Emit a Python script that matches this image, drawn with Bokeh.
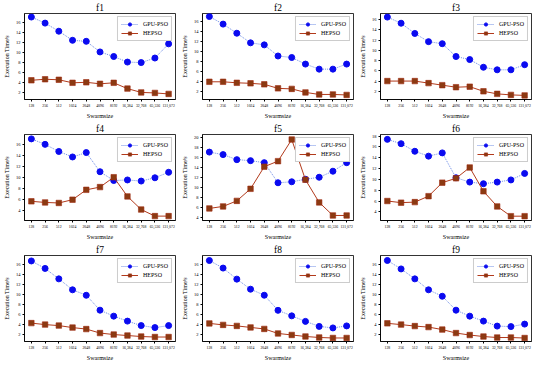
from bokeh.plotting import figure
from bokeh.layouts import gridplot
from bokeh.models import Range1d, SingleIntervalTicker, Legend, LegendItem
from bokeh.embed import file_html
from bokeh.resources import INLINE

swarm = ["128", "256", "512", "1024", "2048", "4096", "8192", "16,384", "32,768", "65,536", "131,072"]
titles = ["f1", "f2", "f3", "f4", "f5", "f6", "f7", "f8", "f9"]

gpu_f1 = [17.0, 15.8, 14.2, 12.4, 12.2, 10.1, 9.2, 8.1, 8.0, 8.9, 11.7]
hep_f1 = [4.5, 4.7, 4.6, 4.0, 4.1, 3.8, 4.0, 2.85, 2.1, 2.0, 1.8]
gpu_f2 = [16.9, 15.4, 13.6, 11.7, 11.3, 9.1, 8.8, 7.5, 6.5, 6.5, 7.5]
hep_f2 = [4.0, 4.0, 3.8, 3.7, 3.5, 2.7, 2.6, 1.9, 1.5, 1.5, 1.4]
gpu_f3 = [16.5, 15.3, 13.3, 11.7, 11.3, 8.8, 8.2, 6.7, 6.2, 6.2, 7.2]
hep_f3 = [4.0, 4.0, 4.0, 3.6, 3.2, 2.8, 2.9, 2.0, 1.5, 1.3, 1.2]
gpu_f4 = [17.0, 16.0, 14.7, 13.7, 14.5, 11.0, 9.4, 9.5, 9.3, 9.9, 10.9]
hep_f4 = [5.6, 5.4, 5.3, 5.9, 7.7, 8.2, 10.0, 6.5, 4.1, 2.9, 2.9]
gpu_f5 = [17.1, 16.6, 15.6, 15.4, 15.0, 11.0, 11.2, 11.7, 12.1, 13.3, 15.0]
hep_f5 = [5.9, 6.3, 7.4, 9.8, 14.2, 15.3, 19.6, 11.6, 7.1, 4.5, 4.5]
gpu_f6 = [17.4, 16.6, 15.2, 14.3, 14.9, 10.3, 9.5, 9.2, 9.5, 9.9, 11.1]
hep_f6 = [6.0, 5.7, 5.8, 6.9, 9.4, 10.2, 12.2, 7.8, 5.0, 3.2, 3.2]
gpu_f7 = [16.8, 15.3, 13.2, 11.0, 9.9, 6.9, 5.7, 4.7, 3.8, 3.4, 3.8]
hep_f7 = [4.3, 4.0, 3.8, 3.4, 3.1, 2.3, 2.0, 1.8, 1.6, 1.5, 1.5]
gpu_f8 = [16.7, 15.2, 13.0, 11.0, 9.8, 6.8, 5.7, 4.6, 3.6, 3.3, 3.7]
hep_f8 = [4.2, 3.9, 3.7, 3.4, 3.1, 2.2, 1.9, 1.6, 1.4, 1.3, 1.3]
gpu_f9 = [16.9, 15.2, 13.2, 11.0, 9.7, 6.9, 5.7, 4.7, 3.7, 3.6, 4.1]
hep_f9 = [4.25, 4.0, 3.7, 3.5, 3.0, 2.3, 1.9, 1.6, 1.4, 1.4, 1.3]

gpu_all = [gpu_f1, gpu_f2, gpu_f3, gpu_f4, gpu_f5, gpu_f6, gpu_f7, gpu_f8, gpu_f9]
hep_all = [hep_f1, hep_f2, hep_f3, hep_f4, hep_f5, hep_f6, hep_f7, hep_f8, hep_f9]
y_lo = [0.7, 0.5, 0.4, 2.1, 3.5, 2.4, 0.6, 0.6, 0.6]
y_hi = [17.7, 17.5, 17.2, 17.8, 20.6, 18.3, 17.9, 17.7, 17.9]

FONT = "Liberation Serif"
figs = []
for i in range(9):
    p = figure(x_range=swarm, width=178, height=121, output_backend="svg",
               toolbar_location=None, title=titles[i])
    p.y_range = Range1d(y_lo[i], y_hi[i])
    p.x_range.range_padding = 0
    p.title.align = "center"
    p.title.text_font = FONT
    p.title.text_font_size = "9.5px"
    p.title.text_font_style = "normal"
    p.title.text_color = "black"
    p.title.standoff = 1
    p.min_border_left = 4
    p.min_border_right = 3
    p.min_border_top = 2
    p.min_border_bottom = 2
    p.outline_line_color = "black"
    p.outline_line_width = 0.8
    p.xgrid.visible = False
    p.ygrid.visible = False
    p.yaxis.ticker = SingleIntervalTicker(interval=2)
    for ax in (p.xaxis[0], p.yaxis[0]):
        ax.major_label_text_font = FONT
        ax.major_label_text_font_size = "4.5px"
        ax.major_label_text_color = "black"
        ax.axis_label_text_font = FONT
        ax.axis_label_text_font_size = "6px"
        ax.axis_label_text_font_style = "normal"
        ax.axis_label_text_color = "black"
        ax.major_tick_out = 2
        ax.major_tick_in = 0
        ax.minor_tick_out = 0
        ax.minor_tick_in = 0
        ax.major_label_standoff = 2
        ax.axis_label_standoff = 3
        ax.axis_line_width = 0.8
        ax.axis_line_color = "black"
        ax.major_tick_line_color = "black"
    p.xaxis.major_label_text_font_size = "3.8px"
    p.xaxis.axis_label = "Swarmsize"
    p.yaxis.axis_label = "Execution Time/s"

    l1 = p.line(swarm, gpu_all[i], line_color="#6f8ee6", line_dash="1 1", line_width=1)
    m1 = p.scatter(swarm, gpu_all[i], marker="circle", size=6,
                   fill_color="#0a0af0", line_color="#0a0af0")
    l2 = p.line(swarm, hep_all[i], line_color="#b23a1c", line_width=1)
    m2 = p.scatter(swarm, hep_all[i], marker="square", size=5.5,
                   fill_color="#8b3a12", line_color="#a02a10", line_width=0.6)
    legend = Legend(items=[LegendItem(label="GPU-PSO", renderers=[l1, m1]),
                           LegendItem(label="HEPSO", renderers=[l2, m2])],
                    location="top_right")
    legend.label_text_font = FONT
    legend.label_text_font_size = "6px"
    legend.label_text_color = "black"
    legend.label_height = 8
    legend.glyph_height = 8
    legend.glyph_width = 17
    legend.spacing = 1
    legend.padding = 3
    legend.margin = 3
    legend.label_standoff = 5
    legend.border_line_color = "#999999"
    legend.border_line_width = 0.6
    legend.background_fill_alpha = 1
    p.add_layout(legend)
    figs.append(p)

grid = gridplot(figs, ncols=3, toolbar_location=None)
open("out.html", "w").write(file_html(grid, INLINE))
